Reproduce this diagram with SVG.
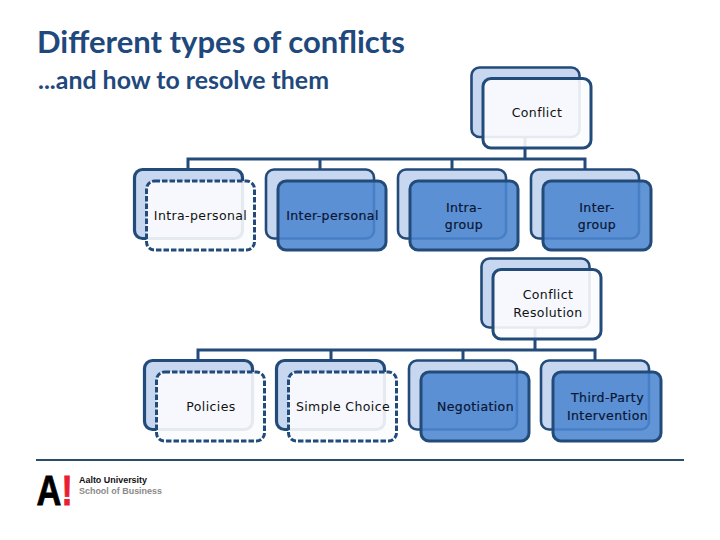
<svg xmlns="http://www.w3.org/2000/svg" width="720" height="540" viewBox="0 0 720 540">
<style>
.b{fill:#c6d7ef;stroke:#234b7a;stroke-width:2.6}
.bt{stroke-width:3.2}
.fw{fill:#fbfcfe;fill-opacity:.9;stroke:#234b7a;stroke-width:3}
.fb{fill:#4c86d0;fill-opacity:.88;stroke:#234b7a;stroke-width:3}
.d{stroke-dasharray:5.5 2}
.c{fill:none;stroke:#234b7a;stroke-width:3}
.l{font-family:"DejaVu Sans",sans-serif;font-size:12.5px;fill:#111;text-anchor:middle;letter-spacing:.4px}
.lb{fill:#0a1533;stroke:#0a1533;stroke-width:.2}
.t{font-family:Lato,sans-serif;font-weight:700;fill:#1f497d}
.m{font-family:"Liberation Sans",sans-serif;font-weight:700;font-size:42px;stroke-width:.8}
</style>
<rect width="720" height="540" fill="#fff"/>
<text class="t" x="37" y="53" font-size="31" textLength="368" lengthAdjust="spacingAndGlyphs">Different types of conflicts</text>
<text class="t" x="38" y="89" font-size="24" textLength="291" lengthAdjust="spacingAndGlyphs">...and how to resolve them</text>
<g id="connectors">
<path class="c" d="M188 169V159H585V169M320 159V169M452 159V169M525 159V137"/>
<path class="c" d="M198 360V350H595V360M331 350V360M463 350V360M535 350V328"/>
</g>
<g id="n-conflict"><rect class="b" x="471.500" y="67.500" width="108" height="69.500" rx="8"/><rect class="fw" x="483" y="78.500" width="108" height="69.500" rx="8"/><text class="l" x="537" y="117">Conflict</text></g>
<g id="n-intrapersonal"><rect class="b bt" x="134.500" y="169.500" width="108" height="69" rx="8"/><rect class="fw d" x="146.500" y="181" width="108" height="69" rx="8"/><text class="l" x="200.500" y="220">Intra-personal</text></g>
<g id="n-interpersonal"><rect class="b" x="266" y="169.500" width="108" height="69" rx="8"/><rect class="fb" x="278" y="181" width="108" height="69" rx="8"/><text class="l lb" x="332.500" y="220">Inter-personal</text></g>
<g id="n-intragroup"><rect class="b" x="398" y="169.500" width="108" height="69" rx="8"/><rect class="fb" x="410" y="181" width="108" height="69" rx="8"/><text class="l lb" x="464" y="212">Intra-</text><text class="l lb" x="464" y="229">group</text></g>
<g id="n-intergroup"><rect class="b" x="531" y="169.500" width="108" height="69" rx="8"/><rect class="fb" x="543" y="181" width="108" height="69" rx="8"/><text class="l lb" x="597" y="212">Inter-</text><text class="l lb" x="597" y="229">group</text></g>
<g id="n-resolution"><rect class="b" x="481.500" y="258.500" width="108" height="69" rx="8"/><rect class="fw" x="493" y="269.500" width="108" height="69.500" rx="8"/><text class="l" x="548" y="299">Conflict</text><text class="l" x="548" y="317">Resolution</text></g>
<g id="n-policies"><rect class="b bt" x="144.500" y="360.500" width="108" height="69" rx="8"/><rect class="fw d" x="156.500" y="372" width="108" height="69" rx="8"/><text class="l" x="211" y="411">Policies</text></g>
<g id="n-simple"><rect class="b bt" x="276.500" y="360.500" width="108" height="69" rx="8"/><rect class="fw d" x="288.500" y="372" width="108" height="69" rx="8"/><text class="l" x="343" y="411">Simple Choice</text></g>
<g id="n-negotiation"><rect class="b" x="409" y="360.500" width="108" height="69" rx="8"/><rect class="fb" x="421" y="372" width="108" height="69" rx="8"/><text class="l lb" x="475.500" y="411">Negotiation</text></g>
<g id="n-thirdparty"><rect class="b" x="541" y="360.500" width="108" height="69" rx="8"/><rect class="fb" x="553" y="372" width="108" height="69" rx="8"/><text class="l lb" x="607.500" y="402">Third-Party</text><text class="l lb" x="607.500" y="420">Intervention</text></g>
<path d="M36 460H684" stroke="#2a4d6e" stroke-width="2" fill="none"/>
<text class="m" transform="translate(36.500 505) scale(.82 1)" fill="#000" stroke="#000">A</text>
<text class="m" transform="translate(61.500 505) scale(.8 1)" fill="#e8202f" stroke="#e8202f">!</text>
<text x="79" y="483" font-family="Liberation Sans,sans-serif" font-weight="700" font-size="8.600" fill="#111" textLength="68" lengthAdjust="spacingAndGlyphs">Aalto University</text>
<text x="79" y="494" font-family="Liberation Sans,sans-serif" font-weight="700" font-size="8.600" fill="#8a8a8a" textLength="83" lengthAdjust="spacingAndGlyphs">School of Business</text>
</svg>
